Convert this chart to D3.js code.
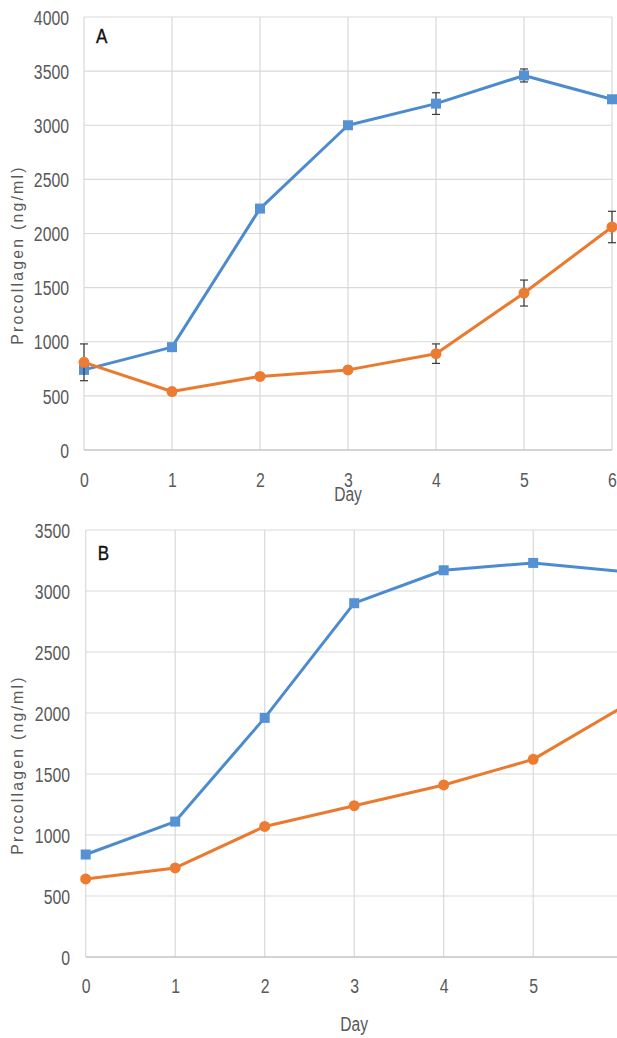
<!DOCTYPE html>
<html>
<head>
<meta charset="utf-8">
<script src="https://cdn.jsdelivr.net/npm/d3@7"></script>
<style>
  html, body { margin: 0; padding: 0; background: #fff; overflow: hidden; }
  svg { display: block; }
  text { font-family: "Liberation Sans", Arial, sans-serif; }
</style>
</head>
<body>
<svg id="chart" width="617" height="1038"></svg>
<script>
// Procollagen release over seven days, two experiments (A and B)
const days = [0, 1, 2, 3, 4, 5, 6];

const aBlue = [740, 950, 2230, 3000, 3200, 3460, 3240];
const aBlueErr = [0, 0, 0, 30, 100, 60, 0];
const aOrange = [810, 540, 680, 740, 890, 1450, 2060];
const aOrangeErr = [170, 0, 0, 0, 90, 120, 145];

const bBlue = [840, 1110, 1960, 2900, 3170, 3230, 3160];
const bOrange = [640, 730, 1070, 1240, 1410, 1620, 2050];

const aTicks = [0, 500, 1000, 1500, 2000, 2500, 3000, 3500, 4000];
const bTicks = [0, 500, 1000, 1500, 2000, 2500, 3000, 3500];

const yTitle = "Procollagen (ng/ml)";
const xTitle = "Day";

const BLUE_LINE = "#4d8bcf", BLUE_MARK = "#5592d4";
const ORANGE_LINE = "#e97a30", ORANGE_MARK = "#ec7c31";
const GRID = "#d9d9d9", AXIS = "#c4c4c4", TEXT = "#595959";
const FONT = '"Liberation Sans", Arial, sans-serif';

const svg = d3.select("#chart");

// narrow the glyphs horizontally, keeping their height
function squeeze(sel, k) {
  sel.each(function () {
    const w = this.getComputedTextLength();
    this.setAttribute("textLength", (w * k).toFixed(2));
    this.setAttribute("lengthAdjust", "spacingAndGlyphs");
  });
}

function panel(cfg) {
  const x = d3.scaleLinear().domain([0, 6]).range([cfg.left, cfg.right]);
  const y = d3.scaleLinear().domain([0, cfg.yMax]).range([cfg.bottom, cfg.top]);
  const g = svg.append("g");

  // horizontal gridlines
  g.append("g").selectAll("line").data(cfg.ticks.filter(t => t > 0)).join("line")
    .attr("x1", cfg.left).attr("x2", cfg.right)
    .attr("y1", d => y(d)).attr("y2", d => y(d))
    .attr("stroke", GRID).attr("stroke-width", 1.2);

  // vertical gridlines
  g.append("g").selectAll("line").data(days).join("line")
    .attr("x1", d => x(d)).attr("x2", d => x(d))
    .attr("y1", cfg.top).attr("y2", cfg.bottom)
    .attr("stroke", GRID).attr("stroke-width", 1.2);

  // baseline
  g.append("line")
    .attr("x1", cfg.left).attr("x2", cfg.right)
    .attr("y1", y(0)).attr("y2", y(0))
    .attr("stroke", AXIS).attr("stroke-width", 1.3);

  // y axis tick labels
  const yAxis = d3.axisLeft(y).tickValues(cfg.ticks).tickSize(0).tickPadding(0)
    .tickFormat(d3.format("d"));
  const ya = g.append("g").attr("transform", `translate(${cfg.yLabelX},0)`).call(yAxis);
  ya.select(".domain").remove();
  ya.selectAll("text").attr("fill", TEXT).attr("font-size", 20)
    .attr("font-family", FONT).attr("dy", "0.36em");
  squeeze(ya.selectAll("text"), 0.79);

  // x axis tick labels
  const xAxis = d3.axisBottom(x).tickValues(days).tickSize(0).tickPadding(0)
    .tickFormat(d3.format("d"));
  const xa = g.append("g").attr("transform", `translate(0,${cfg.xLabelY})`).call(xAxis);
  xa.select(".domain").remove();
  xa.selectAll("text").attr("fill", TEXT).attr("font-size", 20)
    .attr("font-family", FONT).attr("dy", 0);
  squeeze(xa.selectAll("text"), 0.79);

  // axis titles
  const dt = g.append("text").attr("x", x(3)).attr("y", cfg.dayY)
    .attr("text-anchor", "middle").attr("fill", TEXT).attr("font-size", 20)
    .text(xTitle);
  squeeze(dt, 0.78);
  const yt = g.append("text")
    .attr("transform", `translate(${cfg.titleX},${cfg.titleY}) rotate(-90)`)
    .attr("text-anchor", "middle").attr("fill", TEXT).attr("font-size", 17)
    .attr("letter-spacing", 2.4)
    .text(yTitle);
  squeeze(yt, 0.93);

  // panel letter
  const lt = g.append("text").attr("x", cfg.left + 12).attr("y", cfg.letterY)
    .attr("fill", "#111").attr("font-size", 20).attr("font-weight", 500)
    .attr("stroke", "#111").attr("stroke-width", 0.4).text(cfg.letter);
  squeeze(lt, 0.85);

  const line = d3.line().x((d, i) => x(days[i])).y(d => y(d));

  function series(values, errs, lineColor, markColor, shape) {
    const s = g.append("g");
    if (errs) {
      const eb = s.append("g").attr("stroke", "#3a3a3a").attr("stroke-width", 1.2);
      values.forEach((v, i) => {
        if (!errs[i]) return;
        const cx = x(days[i]);
        const y1 = y(v + errs[i]), y2 = y(v - errs[i]);
        eb.append("line").attr("x1", cx).attr("x2", cx).attr("y1", y1).attr("y2", y2);
        eb.append("line").attr("x1", cx - 4).attr("x2", cx + 4).attr("y1", y1).attr("y2", y1);
        eb.append("line").attr("x1", cx - 4).attr("x2", cx + 4).attr("y1", y2).attr("y2", y2);
      });
    }
    s.append("path").datum(values).attr("d", line)
      .attr("fill", "none").attr("stroke", lineColor).attr("stroke-width", 3)
      .attr("stroke-linejoin", "round");
    if (shape === "square") {
      s.selectAll("rect").data(values).join("rect")
        .attr("x", (d, i) => x(days[i]) - 5).attr("y", d => y(d) - 5)
        .attr("width", 10).attr("height", 10).attr("fill", markColor);
    } else {
      s.selectAll("circle").data(values).join("circle")
        .attr("cx", (d, i) => x(days[i])).attr("cy", d => y(d))
        .attr("r", 5.5).attr("fill", markColor);
    }
  }

  series(cfg.blue, cfg.blueErr, BLUE_LINE, BLUE_MARK, "square");
  series(cfg.orange, cfg.orangeErr, ORANGE_LINE, ORANGE_MARK, "circle");
}

panel({
  letter: "A", left: 84, right: 612, top: 17, bottom: 450, yMax: 4000, ticks: aTicks,
  yLabelX: 69, xLabelY: 487, dayY: 501, titleX: 23, titleY: 255, letterY: 43,
  blue: aBlue, blueErr: aBlueErr, orange: aOrange, orangeErr: aOrangeErr
});

panel({
  letter: "B", left: 85.7, right: 622.7, top: 530, bottom: 957, yMax: 3500, ticks: bTicks,
  yLabelX: 70, xLabelY: 993, dayY: 1031, titleX: 23, titleY: 765, letterY: 560,
  blue: bBlue, blueErr: null, orange: bOrange, orangeErr: null
});
</script>
</body>
</html>
